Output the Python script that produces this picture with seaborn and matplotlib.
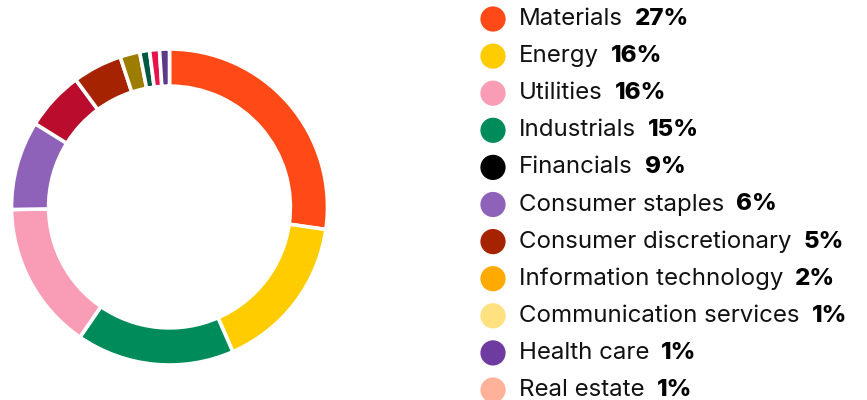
import matplotlib
matplotlib.use("Agg")
import matplotlib.pyplot as plt
import seaborn as sns
import pandas as pd

# sector weights shown in the legend
sectors = ["Materials", "Energy", "Utilities", "Industrials", "Financials",
           "Consumer staples", "Consumer discretionary", "Information technology",
           "Communication services", "Health care", "Real estate"]
weights = [27, 16, 16, 15, 9, 6, 5, 2, 1, 1, 1]
legend_colors = ["#FF4A17", "#FFCC00", "#F99DB6", "#008C5A", "#000000", "#8F62BA",
                 "#A62300", "#FFAA00", "#FFE17F", "#6E3CA0", "#FFB199"]

# donut slices as drawn in the ring (clockwise from top)
ring_values = [27, 16, 16, 15, 9, 6, 5, 2, 1, 1, 1]
ring_colors = ["#FF4A17", "#FFCC00", "#008C5A", "#F99DB6", "#8F62BA", "#BA0D2E",
               "#A62300", "#9C7D00", "#005940", "#E8134A", "#5B3A87"]

sns.set_theme(style="white")
plt.rcParams["font.family"] = ["Inter", "DejaVu Sans"]

W, H = 867, 400
fig = plt.figure(figsize=(W / 100, H / 100), dpi=100)

# donut
cx, cy, r = 169.5, 193, 158
ax = fig.add_axes([(cx - r) / W, (cy - r) / H, 2 * r / W, 2 * r / H])
ax.pie(ring_values, colors=ring_colors, startangle=90, counterclock=False,
       radius=1, wedgeprops=dict(width=0.235, edgecolor="white", linewidth=2.6))
ax.set_xlim(-1.0, 1.0)
ax.set_ylim(-1.0, 1.0)
ax.set_aspect("equal")
ax.axis("off")

# legend drawn in pixel coordinates
lax = fig.add_axes([0, 0, 1, 1])
lax.set_xlim(0, W)
lax.set_ylim(H, 0)
lax.axis("off")

y0, step = 19, 37.1
df = pd.DataFrame({"sector": sectors, "weight": weights})
df["y"] = [y0 + step * i for i in range(len(df))]
df["x"] = 493
sns.scatterplot(data=df, x="x", y="y", hue="sector", palette=legend_colors,
                s=330, linewidth=0, legend=False, ax=lax)

renderer = fig.canvas.get_renderer()
inv = lax.transData.inverted()
for _, row in df.iterrows():
    t = lax.text(519, row["y"], row["sector"], fontsize=17.3, va="center",
                 color="#111111")
    bb = t.get_window_extent(renderer=renderer)
    xend = inv.transform((bb.x1, bb.y0))[0]
    lax.text(xend + 12, row["y"], f"{row['weight']}%", fontsize=17.3,
             va="center", fontweight="heavy", color="#000000")

fig.savefig("out.png", dpi=100)
